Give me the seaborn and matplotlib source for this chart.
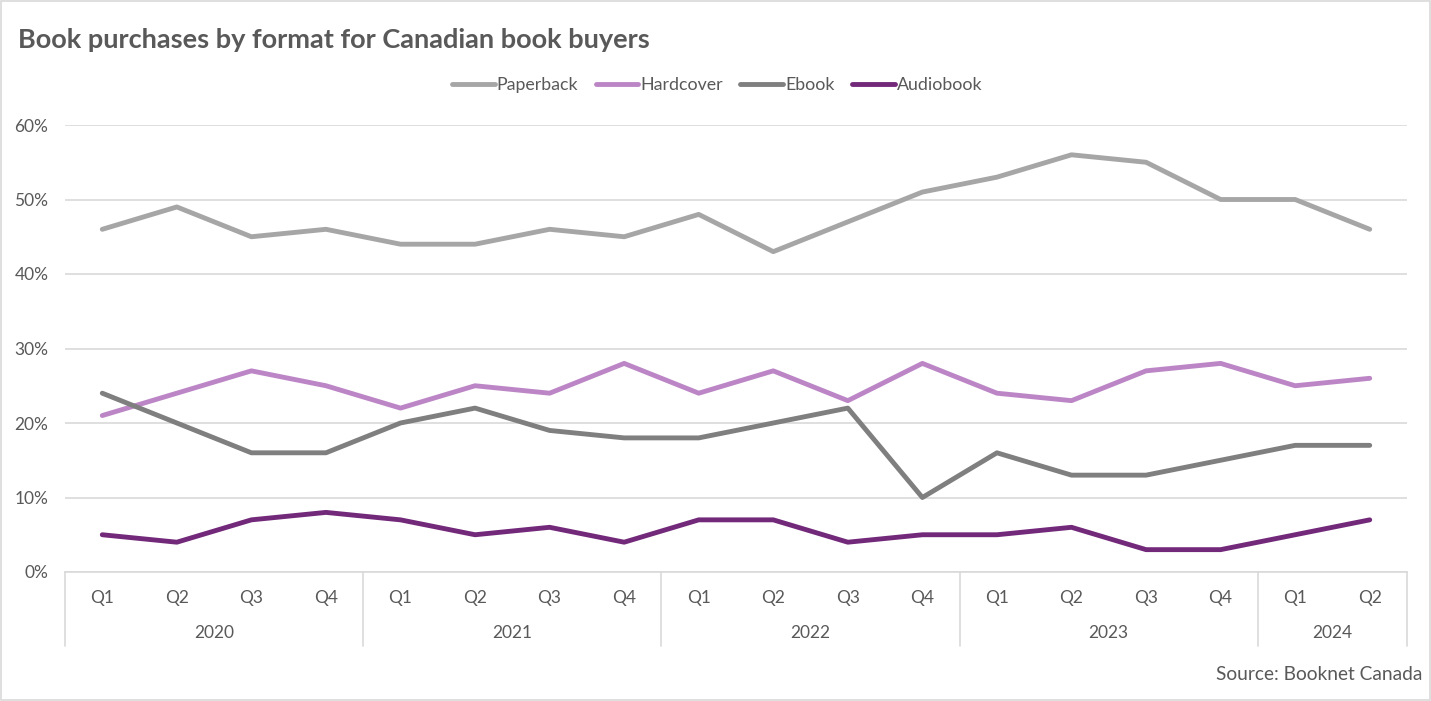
import matplotlib
matplotlib.use("Agg")
import matplotlib.pyplot as plt
import matplotlib.transforms as mtransforms
from matplotlib.patches import Rectangle
from matplotlib.lines import Line2D
import seaborn as sns
import pandas as pd

years = ["2020"] * 4 + ["2021"] * 4 + ["2022"] * 4 + ["2023"] * 4 + ["2024"] * 2
quarters = ["Q1", "Q2", "Q3", "Q4"] * 4 + ["Q1", "Q2"]
paperback = [46, 49, 45, 46, 44, 44, 46, 45, 48, 43, 47, 51, 53, 56, 55, 50, 50, 46]
hardcover = [21, 24, 27, 25, 22, 25, 24, 28, 24, 27, 23, 28, 24, 23, 27, 28, 25, 26]
ebook = [24, 20, 16, 16, 20, 22, 19, 18, 18, 20, 22, 10, 16, 13, 13, 15, 17, 17]
audiobook = [5, 4, 7, 8, 7, 5, 6, 4, 7, 7, 4, 5, 5, 6, 3, 3, 5, 7]
series_names = ["Paperback", "Hardcover", "Ebook", "Audiobook"]
colors = ["#A6A6A6", "#BC86C6", "#7F7F7F", "#73297A"]

rows = []
for name, vals in zip(series_names, [paperback, hardcover, ebook, audiobook]):
    for i, v in enumerate(vals):
        rows.append({"idx": i, "value": v / 100.0, "format": name})
df = pd.DataFrame(rows)

sns.set_style("white")
plt.rcParams["font.family"] = ["Lato", "DejaVu Sans"]
text_color = "#595959"
grid_color = "#D9D9D9"
lw = 3.5

fig = plt.figure(figsize=(14.31, 7.01), dpi=100)
ax = fig.add_axes([65 / 1431, 1 - 572 / 701, 1342 / 1431, 447 / 701])

sns.lineplot(data=df, x="idx", y="value", hue="format", hue_order=series_names,
             palette=colors, linewidth=lw, ax=ax, legend=False, sort=False)
for line in ax.lines:
    line.set_solid_capstyle("round")
    line.set_solid_joinstyle("round")

ax.set_xlim(-0.5, len(quarters) - 0.5)
ax.set_ylim(0, 0.6)
ax.set_yticks([0, 0.1, 0.2, 0.3, 0.4, 0.5, 0.6])
ax.set_yticklabels([f"{int(round(t*100))}%" for t in ax.get_yticks()])
ax.yaxis.grid(True, color=grid_color, linewidth=1.2)
ax.set_axisbelow(True)
ax.set_xticks(range(len(quarters)))
ax.set_xticklabels(quarters)
ax.tick_params(axis="x", length=0, pad=13, labelsize=12.5, labelcolor=text_color)
ax.tick_params(axis="y", length=0, pad=12, labelsize=12.5, labelcolor=text_color)
ax.set_xlabel("")
ax.set_ylabel("")
for s in ["top", "right", "left"]:
    ax.spines[s].set_visible(False)
ax.spines["bottom"].set_color(grid_color)
ax.spines["bottom"].set_linewidth(1.2)

# Year group labels and separators
trans = mtransforms.blended_transform_factory(ax.transData, ax.transAxes)
unique_years = []
for y in years:
    if y not in unique_years:
        unique_years.append(y)
bounds = [-0.5]
for y in unique_years:
    idxs = [i for i, yy in enumerate(years) if yy == y]
    ax.text((idxs[0] + idxs[-1]) / 2, -0.137, y, transform=trans, ha="center", va="center",
            fontsize=12.5, color=text_color)
    bounds.append(idxs[-1] + 0.5)
for b in bounds:
    ax.plot([b, b], [0, -0.165], transform=trans, color=grid_color, linewidth=1.2, clip_on=False)

# Legend
handles = [Line2D([0], [0], color=c, linewidth=lw, solid_capstyle="round") for c in colors]
fig.legend(handles, series_names, loc="center", bbox_to_anchor=(0.501, 1 - 85 / 701), ncol=4,
           frameon=False, fontsize=12.8, handlelength=2.4, handletextpad=0.1, columnspacing=1.0,
           labelcolor=text_color)

fig.text(18 / 1431, 1 - 40 / 701, "Book purchases by format for Canadian book buyers",
         fontsize=19.5, fontweight="bold", color=text_color, ha="left", va="center")
fig.text(1422 / 1431, 1 - 675 / 701, "Source: Booknet Canada", fontsize=13.8, color=text_color,
         ha="right", va="center")

fig.patches.append(Rectangle((0.0007, 0.0014), 0.9986, 0.9972, transform=fig.transFigure,
                             fill=False, edgecolor=grid_color, linewidth=1.2))

fig.savefig("out.png", dpi=100, facecolor="white")
